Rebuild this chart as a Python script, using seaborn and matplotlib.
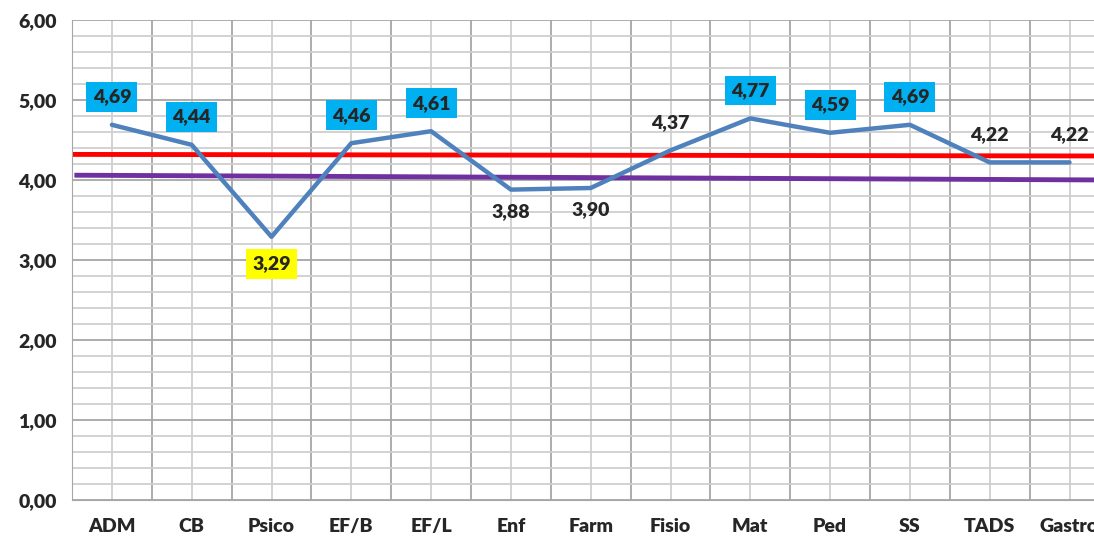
import seaborn as sns
import matplotlib.pyplot as plt
import pandas as pd
from matplotlib.ticker import MultipleLocator, FuncFormatter

# data
cursos = ['ADM', 'CB', 'Psico', 'EF/B', 'EF/L', 'Enf', 'Farm', 'Fisio',
          'Mat', 'Ped', 'SS', 'TADS', 'Gastro']
medias = [4.69, 4.44, 3.29, 4.46, 4.61, 3.88, 3.90, 4.37,
          4.77, 4.59, 4.69, 4.22, 4.22]
linha_vermelha = [4.32, 4.30]   # start, end
linha_roxa = [4.06, 4.00]

df = pd.DataFrame({'x': range(len(cursos)), 'curso': cursos, 'media': medias})

sns.set_style('white')
plt.rcParams['font.family'] = ['Lato', 'DejaVu Sans']

fig = plt.figure(figsize=(10.94, 5.37), dpi=100)
ax = fig.add_axes([72 / 1094, 37 / 537, 1037.4 / 1094, 480 / 537])

n = len(cursos)
ax.set_xlim(-0.5, n - 0.5)
ax.set_ylim(0, 6)

# grid
for i in range(n + 1):
    ax.axvline(i - 0.5, color='#a6a6a6', lw=1.3, zorder=0)
for i in range(n):
    ax.axvline(i, color='#cfcfcf', lw=1.3, zorder=0)
for k in range(31):
    y = k * 0.2
    if k % 5 == 0:
        ax.axhline(y, color='#a6a6a6', lw=1.3, zorder=0)
    else:
        ax.axhline(y, color='#cfcfcf', lw=1.3, zorder=0)

# reference lines
ax.plot([-0.5, n - 0.5], linha_vermelha, color='#ff0000', lw=3.5, zorder=2,
        solid_capstyle='butt')
ax.plot([-0.47, n - 0.5], linha_roxa, color='#7030a0', lw=3.5, zorder=2,
        solid_capstyle='butt')

sns.lineplot(data=df, x='x', y='media', color='#4f81bd', lw=3.2, ax=ax, zorder=3)

# labels
fs = 14
wt = 'heavy'
vmin = min(medias)
for i, v in enumerate(medias):
    txt = f'{v:.2f}'.replace('.', ',')
    if v == vmin:
        bbox = dict(boxstyle='square,pad=0.32', fc='#ffff00', ec='none')
    elif v >= 4.44:
        bbox = dict(boxstyle='square,pad=0.32', fc='#00b0f0', ec='none')
    else:
        bbox = None
    dy = -22 if v < 4.0 else 28
    if v == vmin:
        dy = -27
    ax.annotate(txt, (i, v), xytext=(0, dy), textcoords='offset pixels',
                ha='center', va='center', fontsize=fs, fontweight=wt,
                bbox=bbox, zorder=5)

ax.set_xticks([i - 0.5 for i in range(n + 1)])
ax.set_xticklabels([])
ax.set_xticks(range(n), minor=True)
ax.set_xticklabels(cursos, minor=True, fontsize=fs, fontweight=wt)
ax.tick_params(axis='x', which='major', length=6, color='#a6a6a6', direction='out')
ax.tick_params(axis='x', which='minor', length=0, pad=13)
ax.yaxis.set_major_locator(MultipleLocator(1))
ax.yaxis.set_major_formatter(FuncFormatter(lambda v, p: f'{v:.2f}'.replace('.', ',')))
ax.tick_params(axis='y', length=6, color='#a6a6a6', direction='out', pad=5)
for lab in ax.get_yticklabels():
    lab.set_fontweight(wt)
    lab.set_fontsize(fs)
ax.set_xlabel('')
ax.set_ylabel('')

for s in ['top', 'right']:
    ax.spines[s].set_visible(False)
ax.spines['left'].set_color('#a6a6a6')
ax.spines['bottom'].set_color('#a6a6a6')

fig.savefig('out.png', dpi=100)
